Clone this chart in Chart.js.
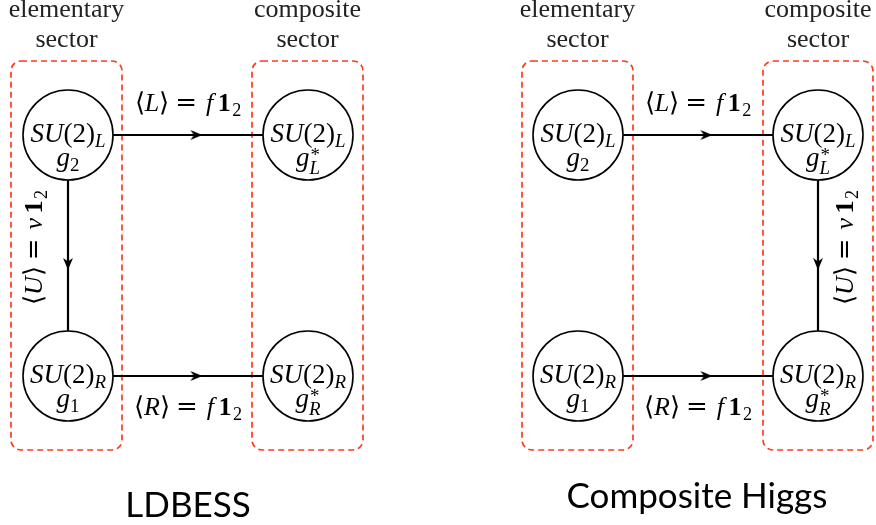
<!DOCTYPE html>
<html><head><meta charset="utf-8">
<script src="https://cdn.jsdelivr.net/npm/chart.js@4"></script>
<style>html,body{margin:0;padding:0;background:#fff}canvas{display:block}</style>
</head><body>
<canvas id="c" width="876" height="525"></canvas>
<script>
// ---- data ----
const nodeX = [68, 308, 68, 308, 578, 818, 578, 818];
const nodeY = [135, 135, 376, 376, 135, 135, 376, 376];
const nodeGroup = ['L', 'L', 'R', 'R', 'L', 'L', 'R', 'R'];
const nodeCoupling = ['2', 'L', '1', 'R', '2', 'L', '1', 'R'];
const nodeStar = [false, true, false, true, false, true, false, true];
const linkFrom = [0, 2, 0, 4, 6, 5];
const linkTo = [1, 3, 2, 5, 7, 7];
const linkField = ['L', 'R', 'U', 'L', 'R', 'U'];
const linkVev = ['f', 'f', 'v', 'f', 'f', 'v'];
const linkSide = ['above', 'below', 'left', 'above', 'below', 'right'];
const boxLeft = [11, 252, 522, 763];
const boxRight = [122, 363, 633, 873];
const boxTop = [61, 61, 61, 61];
const boxBottom = [450, 450, 450, 450];
const boxTitle = ['elementary', 'composite', 'elementary', 'composite'];
const boxSub = ['sector', 'sector', 'sector', 'sector'];
const panelTitles = ['LDBESS', 'Composite Higgs'];
const panelTitleX = [188, 697];
const panelTitleY = [517, 508];

// ---- styles ----
const SERIF = '"Liberation Serif"';
const SERIF2 = '"DejaVu Serif"';
const RED = '#ff3a1f';
const NODE_R = 45;
const ARROW_T = 0.535;

// arrow head image (pointing right)
const arrowImg = document.createElement('canvas');
arrowImg.width = 14; arrowImg.height = 12;
(function () {
  const c = arrowImg.getContext('2d');
  c.fillStyle = '#000';
  c.beginPath();
  c.moveTo(13, 6); c.lineTo(1, 1); c.lineTo(4.5, 6); c.lineTo(1, 11); c.closePath();
  c.fill();
})();

const linkSets = linkFrom.map((f, i) => ({
  type: 'line',
  data: [{x: nodeX[f], y: nodeY[f]}, {x: nodeX[linkTo[i]], y: nodeY[linkTo[i]]}],
  borderColor: '#000', borderWidth: 2.2, pointRadius: 0, showLine: true,
  order: 3, clip: false
}));
const nodeSet = {
  type: 'scatter',
  data: nodeX.map((x, i) => ({x, y: nodeY[i]})),
  pointRadius: NODE_R, pointHoverRadius: NODE_R,
  backgroundColor: '#fff', borderColor: '#000', borderWidth: 1.6,
  order: 2, clip: false
};
const arrowPts = linkFrom.map((f, i) => {
  const t = linkTo[i];
  return {x: nodeX[f] + ARROW_T * (nodeX[t] - nodeX[f]), y: nodeY[f] + ARROW_T * (nodeY[t] - nodeY[f])};
});
const arrowRot = linkFrom.map((f, i) => {
  const t = linkTo[i];
  return Math.atan2(nodeY[t] - nodeY[f], nodeX[t] - nodeX[f]) * 180 / Math.PI;
});
const arrowSet = {
  type: 'scatter', data: arrowPts,
  pointStyle: arrowImg, rotation: arrowRot,
  pointRadius: 6, order: 1, clip: false
};

function fontOf(s, size) {
  if (s === 'i') return 'italic ' + size + 'px ' + SERIF;
  if (s === 'b') return 'bold ' + size + 'px ' + SERIF;
  if (s === 'd') return size + 'px ' + SERIF2;
  return size + 'px ' + SERIF;
}
function runWidth(ctx, r, size) {
  if (r.pos === 'sub' || r.pos === 'sup') { ctx.font = fontOf(r.s, size * 0.7); return ctx.measureText(r.t).width; }
  if (r.pos === 'subsup') {
    ctx.font = fontOf('r', size * 0.7); const a = ctx.measureText(r.t).width;
    ctx.font = fontOf('i', size * 0.7); const b = ctx.measureText(r.t2).width;
    return Math.max(a, b);
  }
  ctx.font = fontOf(r.s, size); return ctx.measureText(r.t).width + (r.pad || 0);
}
function drawMath(ctx, runs, x, y, size) {
  let w = 0; runs.forEach(r => w += runWidth(ctx, r, size));
  let cx = x - w / 2;
  ctx.textAlign = 'left'; ctx.textBaseline = 'alphabetic'; ctx.fillStyle = '#000';
  runs.forEach(r => {
    const rw = runWidth(ctx, r, size);
    if (r.pos === 'sub') { ctx.font = fontOf(r.s, size * 0.7); ctx.fillText(r.t, cx, y + size * 0.2); }
    else if (r.pos === 'sup') { ctx.font = fontOf(r.s, size * 0.7); ctx.fillText(r.t, cx, y - size * 0.38); }
    else if (r.pos === 'subsup') {
      ctx.font = fontOf('r', size * 0.7); ctx.fillText(r.t, cx + 1, y - size * 0.2);
      ctx.font = fontOf('i', size * 0.7); ctx.fillText(r.t2, cx, y + size * 0.28);
    } else { ctx.font = fontOf(r.s, size); ctx.fillText(r.t, cx + (r.pad || 0) / 2, y); }
    cx += rw;
  });
}

const textPlugin = {
  id: 'diagramText',
  beforeDatasetsDraw(chart) {
    const ctx = chart.ctx, xs = chart.scales.x, ys = chart.scales.y;
    ctx.save();
    ctx.strokeStyle = RED; ctx.lineWidth = 1.7; ctx.setLineDash([6, 4]);
    boxLeft.forEach((l, i) => {
      const x0 = xs.getPixelForValue(l), x1 = xs.getPixelForValue(boxRight[i]);
      const y0 = ys.getPixelForValue(boxTop[i]), y1 = ys.getPixelForValue(boxBottom[i]);
      ctx.beginPath(); ctx.roundRect(x0, y0, x1 - x0, y1 - y0, 10); ctx.stroke();
    });
    ctx.restore();
  },
  afterDatasetsDraw(chart) {
    const ctx = chart.ctx, xs = chart.scales.x, ys = chart.scales.y;
    ctx.save();
    boxLeft.forEach((l, i) => {
      ctx.font = '26px ' + SERIF;
      ctx.fillStyle = '#222'; ctx.textAlign = 'center'; ctx.textBaseline = 'alphabetic';
      const cx = xs.getPixelForValue((l + boxRight[i]) / 2);
      const top = ys.getPixelForValue(boxTop[i]);
      ctx.fillText(boxTitle[i], cx, top - 44);
      ctx.fillText(boxSub[i], cx, top - 14);
    });
    // node labels
    nodeX.forEach((x, i) => {
      const px = xs.getPixelForValue(x), py = ys.getPixelForValue(nodeY[i]);
      drawMath(ctx, [{t: 'SU', s: 'i'}, {t: '(2)', s: 'r'}, {t: nodeGroup[i], s: 'i', pos: 'sub'}], px, py + 7, 27);
      const g = nodeStar[i]
        ? [{t: 'g', s: 'i'}, {t: '*', t2: nodeCoupling[i], pos: 'subsup'}]
        : [{t: 'g', s: 'i'}, {t: nodeCoupling[i], s: 'r', pos: 'sub'}];
      drawMath(ctx, g, px, py + 31, 27);
    });
    // link labels
    linkFrom.forEach((f, i) => {
      const t = linkTo[i];
      const mx = xs.getPixelForValue((nodeX[f] + nodeX[t]) / 2);
      const my = ys.getPixelForValue((nodeY[f] + nodeY[t]) / 2);
      const runs = [{t: '\u27E8', s: 'r'}, {t: linkField[i], s: 'i'}, {t: '\u27E9', s: 'r'},
        {t: '=', s: 'd', pad: 12}, {t: linkVev[i], s: 'i', pad: 6}, {t: '1', s: 'b', pad: 3}, {t: '2', s: 'r', pos: 'sub'}];
      const side = linkSide[i];
      if (side === 'above') drawMath(ctx, runs, mx, my - 24, 26);
      else if (side === 'below') drawMath(ctx, runs, mx, my + 39, 26);
      else {
        ctx.save();
        const bx = side === 'left' ? mx - 26 : mx + 35;
        ctx.translate(bx, my - 8);
        ctx.rotate(-Math.PI / 2);
        drawMath(ctx, runs, 0, 0, 26);
        ctx.restore();
      }
    });
    // panel titles
    ctx.fillStyle = '#000'; ctx.textAlign = 'center'; ctx.textBaseline = 'alphabetic';
    ctx.font = '35px Lato';
    panelTitles.forEach((s, i) => ctx.fillText(s, xs.getPixelForValue(panelTitleX[i]), ys.getPixelForValue(panelTitleY[i])));
    ctx.restore();
  }
};

new Chart(document.getElementById('c'), {
  type: 'scatter',
  data: {datasets: [arrowSet, nodeSet, ...linkSets]},
  options: {
    responsive: false, devicePixelRatio: 1, animation: false, events: [],
    layout: {padding: 0, autoPadding: false},
    scales: {
      x: {type: 'linear', min: 0, max: 876, display: false},
      y: {type: 'linear', min: 0, max: 525, reverse: true, display: false}
    },
    plugins: {legend: {display: false}, tooltip: {enabled: false}}
  },
  plugins: [textPlugin]
});
</script>
</body></html>
